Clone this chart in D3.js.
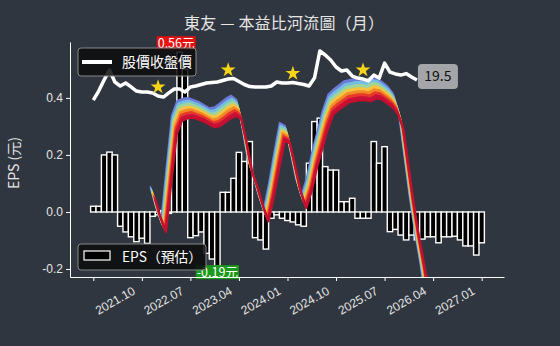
<!DOCTYPE html>
<html>
<head>
<meta charset="utf-8">
<script src="https://cdn.jsdelivr.net/npm/d3@7"></script>
<style>
  body { margin: 0; background: #30363f; }
  svg { display: block; font-family: "Noto Sans CJK TC", "Noto Sans", sans-serif; }
</style>
</head>
<body>
<svg id="chart" width="560" height="346"></svg>
<script>
// --- data ---
var titleText = "東友 — 本益比河流圖（月）";
var startMonth = new Date(2021, 0, 1);   // first bar = 2021.01
var epsMonthly = [0.02, 0.02, 0.20, 0.21, 0.20, -0.05, -0.07, -0.087, -0.104, -0.092,
  -0.11, -0.015, -0.01, 0.005, -0.005, 0.32, 0.56, 0.50, -0.09, -0.083,
  -0.07, -0.145, -0.165, -0.19, 0.069, 0.069, 0.118, 0.209, 0.177, 0.247,
  -0.09, -0.098, -0.13, -0.022, -0.01, -0.022, -0.03, -0.035, -0.045, -0.05,
  0.171, 0.317, 0.329, 0.159, 0.147, 0.147, 0.036, 0.036, 0.048, -0.022,
  -0.022, -0.022, 0.247, 0.171, 0.229, -0.069, -0.061, -0.081, -0.098, -0.081,
  -0.098, -0.095, -0.087, -0.087, -0.108, -0.087, -0.087, -0.085, -0.098, -0.119,
  -0.119, -0.151, -0.108];
var closePrice = [18.05, 18.71, 19.52, 20.25, 19.37, 19.08, 19.30, 19.01, 18.71, 18.64,
  18.64, 18.57, 18.35, 18.27, 18.57, 18.86, 18.86, 18.64, 19.01, 19.08,
  19.19, 19.30, 19.34, 19.37, 19.48, 19.59, 19.63, 19.41, 19.19, 19.04,
  19.01, 19.01, 19.01, 19.08, 19.37, 19.30, 19.30, 19.34, 19.26, 19.19,
  19.08, 19.66, 21.64, 21.35, 20.98, 20.47, 20.18, 20.25, 19.81, 19.66,
  19.59, 19.45, 19.88, 19.66, 20.76, 20.10, 19.96, 19.88, 19.99, 19.74, 19.52];
var riverStart = 11;   // month index of first river point
var riverEps = [0.893, 0.782, 0.695, 0.997, 1.288, 1.369, 1.381, 1.386, 1.375, 1.363,
  1.346, 1.328, 1.334, 1.357, 1.381, 1.398, 1.375, 1.230, 1.055, 0.962,
  0.852, 0.759, 0.910, 1.084, 1.247, 1.230, 1.084, 0.939, 0.840, 0.939,
  1.084, 1.201, 1.317, 1.404, 1.433, 1.456, 1.479, 1.485, 1.491, 1.491,
  1.485, 1.503, 1.497, 1.474, 1.450, 1.410, 1.317, 1.084, 0.852, 0.649,
  0.474, 0.271];
var peLevels = [12.1, 12.25, 12.4, 12.55, 12.7, 12.85, 13.0, 13.15];
var bandColors = ["#c8123a", "#e8392b", "#f28a26", "#f6c443", "#9fd49a", "#74bfe0", "#6d7bd8"];
var starMonths = [12, 25, 37, 50];
var xTickIdx = [0, 9, 18, 27, 36, 45, 54, 63, 72];

// --- layout ---
var svg = d3.select("#chart");
var plotL = 70, plotR = 504, plotT = 42, plotB = 277;

var x = d3.scaleLinear().domain([-4.32, 76.14]).range([plotL, plotR]);
var y = d3.scaleLinear().domain([-0.228, 0.596]).range([plotB, plotT]);
var yp = d3.scaleLinear().domain([5.1, 22.3]).range([plotB, plotT]);
var bw = x(1) - x(0);
var fmtMonth = d3.timeFormat("%Y.%m");
// small sideways offset of each river line so steep parts still show the rainbow
var shift = d3.scaleLinear().domain([0, peLevels.length - 1]).range([2.5, -2.5]);

svg.append("defs").append("clipPath").attr("id", "plotclip")
  .append("rect").attr("x", plotL).attr("y", plotT)
  .attr("width", plotR - plotL).attr("height", plotB - plotT);

// title
svg.append("text")
  .attr("x", 284).attr("y", 29)
  .attr("text-anchor", "middle")
  .attr("textLength", 200).attr("lengthAdjust", "spacing")
  .style("fill", "#e6e6e6").style("font-size", "16px")
  .text(titleText);

// bars
svg.append("g").selectAll("rect")
  .data(epsMonthly)
  .enter().append("rect")
  .attr("x", function(d, i) { return x(i) - bw / 2; })
  .attr("width", bw)
  .attr("y", function(d) { return y(Math.max(0, d)); })
  .attr("height", function(d) { return Math.abs(y(d) - y(0)); })
  .style("fill", "#000")
  .style("stroke", "#fff")
  .style("stroke-width", 1.4);

// river
var river = svg.append("g").attr("clip-path", "url(#plotclip)");
function riverLine(j) {
  return d3.line()
    .x(function(d, i) { return x(riverStart + i) + shift(j); })
    .y(function(d) { return yp(d * peLevels[j]); });
}
for (var j = bandColors.length - 1; j >= 0; j--) {
  var area = d3.area()
    .x0(function(d, i) { return x(riverStart + i) + shift(j); })
    .y0(function(d) { return yp(d * peLevels[j]); })
    .x1(function(d, i) { return x(riverStart + i) + shift(j + 1); })
    .y1(function(d) { return yp(d * peLevels[j + 1]); });
  river.append("path").datum(riverEps)
    .attr("d", area)
    .style("fill", bandColors[j]);
  river.append("path").datum(riverEps)
    .attr("d", riverLine(j + 1))
    .style("fill", "none").style("stroke", bandColors[j])
    .style("stroke-width", 1.6).style("stroke-linejoin", "round");
}
river.append("path").datum(riverEps)
  .attr("d", riverLine(0))
  .style("fill", "none").style("stroke", "#c4102e")
  .style("stroke-width", 2.4).style("stroke-linejoin", "round");

// price line
svg.append("path").datum(closePrice)
  .attr("d", d3.line()
    .x(function(d, i) { return x(i); })
    .y(function(d) { return yp(d); }))
  .style("fill", "none").style("stroke", "#fff")
  .style("stroke-width", 3.5).style("stroke-linejoin", "round");

// stars
svg.append("g").selectAll("path")
  .data(starMonths)
  .enter().append("path")
  .attr("d", d3.symbol(d3.symbolStar).size(68))
  .attr("transform", function(d) { return "translate(" + x(d) + "," + (yp(closePrice[d]) - 9) + ")"; })
  .style("fill", "#f7d417");

// last price label
var lastI = closePrice.length - 1;
var lx = x(lastI) + 1, ly = yp(closePrice[lastI]) - 4;
svg.append("rect")
  .attr("x", lx).attr("y", ly - 12).attr("width", 40).attr("height", 25)
  .attr("rx", 4).style("fill", "#a3a5a8");
svg.append("text")
  .attr("x", lx + 20).attr("y", ly + 5)
  .attr("text-anchor", "middle")
  .style("fill", "#111").style("font-size", "14px")
  .text(d3.format(".1f")(closePrice[lastI]));

// max / min eps labels
var iMax = d3.maxIndex(epsMonthly), iMin = d3.minIndex(epsMonthly);
function valueTag(i, val, dx, yc, bg) {
  var g = svg.append("g");
  var t = g.append("text")
    .attr("x", x(i) + dx).attr("y", yc + 4.5)
    .attr("text-anchor", "middle")
    .style("fill", "#fff").style("font-size", "12.5px")
    .text(d3.format(".2f")(val).replace("−", "-") + "元");
  var bb = t.node().getBBox();
  g.insert("rect", "text")
    .attr("x", bb.x - 1).attr("y", yc - 7).attr("width", bb.width + 2).attr("height", 14)
    .style("fill", bg);
}
valueTag(iMax, epsMonthly[iMax], -3.5, y(epsMonthly[iMax]) - 9, "#e8100f");
valueTag(iMin, epsMonthly[iMin], 0, y(epsMonthly[iMin]) + 6, "#1a9a1a");

// axes
var yAxis = svg.append("g")
  .attr("transform", "translate(" + plotL + ",0)")
  .call(d3.axisLeft(y).tickValues([-0.2, 0, 0.2, 0.4]).tickSize(4).tickSizeOuter(0)
    .tickFormat(function(d) { return d3.format(".1f")(d).replace("−", "-"); }));
var xAxis = svg.append("g")
  .attr("transform", "translate(0," + plotB + ")")
  .call(d3.axisBottom(x).tickValues(xTickIdx).tickSize(4).tickSizeOuter(0)
    .tickFormat(function(d, i) { return i === 0 ? "" : fmtMonth(d3.timeMonth.offset(startMonth, d)); }));
[yAxis, xAxis].forEach(function(a) {
  a.select(".domain").style("stroke", "#fff");
  a.selectAll(".tick line").style("stroke", "#fff");
  a.selectAll(".tick text").style("fill", "#e6e6e6").style("font-size", "12px");
});
xAxis.selectAll(".tick text")
  .attr("text-anchor", "end")
  .attr("transform", "translate(-14,3) rotate(-30)")
  .attr("dy", "0.7em");

svg.append("text")
  .attr("transform", "translate(19,163) rotate(-90)")
  .attr("text-anchor", "middle")
  .style("fill", "#e6e6e6").style("font-size", "14px")
  .text("EPS (元)");

// legends
var leg1 = svg.append("g");
leg1.append("rect").attr("x", 78).attr("y", 48).attr("width", 118).attr("height", 28)
  .attr("rx", 3).style("fill", "rgba(12,12,12,0.85)").style("stroke", "#888");
leg1.append("line").attr("x1", 82).attr("x2", 112).attr("y1", 62).attr("y2", 62)
  .style("stroke", "#fff").style("stroke-width", 4);
leg1.append("text").attr("x", 122).attr("y", 67)
  .style("fill", "#fff").style("font-size", "14px").text("股價收盤價");

var leg2 = svg.append("g");
leg2.append("rect").attr("x", 78).attr("y", 244).attr("width", 128).attr("height", 26)
  .attr("rx", 3).style("fill", "rgba(12,12,12,0.85)").style("stroke", "#888");
leg2.append("rect").attr("x", 84).attr("y", 251).attr("width", 26).attr("height", 9)
  .style("fill", "#000").style("stroke", "#fff").style("stroke-width", 1.2);
leg2.append("text").attr("x", 122).attr("y", 262)
  .attr("textLength", 80).attr("lengthAdjust", "spacingAndGlyphs")
  .style("fill", "#fff").style("font-size", "14px").text("EPS（預估）");
</script>
</body>
</html>
